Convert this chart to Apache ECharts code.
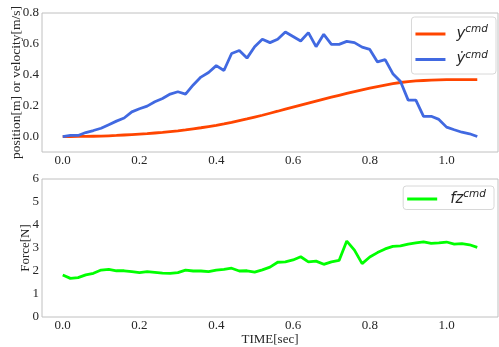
<!DOCTYPE html>
<html>
<head>
<meta charset="utf-8">
<script src="https://cdn.jsdelivr.net/npm/echarts@6/dist/echarts.min.js"></script>
<style>
  html, body { margin: 0; padding: 0; background: #fff; }
  #chart { width: 499px; height: 347px; }
</style>
</head>
<body>
<div id="chart"></div>
<script>
// sample times [sec]
const time = [0.00, 0.02, 0.04, 0.06, 0.08, 0.10, 0.12, 0.14, 0.16, 0.18,
  0.20, 0.22, 0.24, 0.26, 0.28, 0.30, 0.32, 0.34, 0.36, 0.38,
  0.40, 0.42, 0.44, 0.46, 0.48, 0.50, 0.52, 0.54, 0.56, 0.58,
  0.60, 0.62, 0.64, 0.66, 0.68, 0.70, 0.72, 0.74, 0.76, 0.78,
  0.80, 0.82, 0.84, 0.86, 0.88, 0.90, 0.92, 0.94, 0.96, 0.98,
  1.00, 1.02, 1.04, 1.06, 1.08]

// y^cmd position [m]
const yCmd = [0.000, 0.000, 0.001, 0.001, 0.002, 0.003, 0.005, 0.007, 0.010, 0.013,
  0.016, 0.019, 0.023, 0.027, 0.032, 0.037, 0.043, 0.050, 0.057, 0.065,
  0.073, 0.082, 0.092, 0.103, 0.114, 0.126, 0.138, 0.151, 0.164, 0.178,
  0.191, 0.204, 0.217, 0.230, 0.243, 0.255, 0.267, 0.279, 0.291, 0.302,
  0.313, 0.323, 0.333, 0.342, 0.350, 0.356, 0.360, 0.363, 0.365, 0.367,
  0.368, 0.368, 0.369, 0.369, 0.369]

// ydot^cmd velocity [m/s]
const yDotCmd = [0.000, 0.007, 0.007, 0.026, 0.039, 0.054, 0.077, 0.100, 0.120, 0.160,
  0.180, 0.197, 0.225, 0.247, 0.275, 0.290, 0.275, 0.334, 0.385, 0.415,
  0.459, 0.428, 0.538, 0.557, 0.508, 0.582, 0.630, 0.608, 0.630, 0.677,
  0.648, 0.619, 0.673, 0.582, 0.662, 0.597, 0.597, 0.616, 0.608, 0.579,
  0.564, 0.483, 0.498, 0.407, 0.356, 0.236, 0.236, 0.131, 0.131, 0.111,
  0.061, 0.044, 0.028, 0.018, 0.000]

// fz^cmd force [N]
const fzCmd = [1.83, 1.68, 1.71, 1.83, 1.90, 2.04, 2.07, 2.01, 2.01, 1.97,
  1.93, 1.97, 1.94, 1.91, 1.90, 1.93, 2.04, 2.00, 2.00, 1.97,
  2.04, 2.07, 2.12, 2.00, 2.01, 1.95, 2.05, 2.17, 2.38, 2.40,
  2.48, 2.62, 2.40, 2.43, 2.29, 2.40, 2.46, 3.30, 2.91, 2.32,
  2.61, 2.80, 2.96, 3.07, 3.09, 3.17, 3.22, 3.27, 3.20, 3.22,
  3.26, 3.17, 3.19, 3.14, 3.03]

const xTicks = [0, 0.2, 0.4, 0.6, 0.8, 1.0]
const topYTicks = [0, 0.2, 0.4, 0.6, 0.8]

const pairs = (vals) => time.map((t, i) => [t, vals[i]])

const serif = 'Liberation Serif'
const textColor = '#262626'
const frameColor = '#c0c0c0'
const fontSize = 13

const legendNames = {
  ycmd: '{i|y}{s|cmd}',
  ydot: '{i|ẏ}{s|cmd}',
  fz: '{i|fz}{s|cmd}'
}
const legendRich = {
  i: { fontFamily: 'DejaVu Sans', fontStyle: 'italic', fontSize: 15, color: '#262626', lineHeight: 20 },
  s: { fontFamily: 'DejaVu Sans', fontStyle: 'italic', fontSize: 10.5, color: '#262626', lineHeight: 12, verticalAlign: 'top' }
}

const chart = echarts.init(document.getElementById('chart'))

function xAxisOf (gridIndex, showName) {
  return {
    type: 'value',
    gridIndex: gridIndex,
    min: -0.054,
    max: 1.134,
    name: showName ? 'TIME[sec]' : '',
    nameLocation: 'middle',
    nameGap: 15,
    nameTextStyle: { fontFamily: serif, fontSize: fontSize, color: textColor },
    axisLine: { show: false },
    axisTick: { show: false },
    splitLine: { show: false },
    axisLabel: {
      customValues: xTicks,
      margin: 2,
      fontFamily: serif,
      fontSize: fontSize,
      color: textColor,
      formatter: (v) => v.toFixed(1)
    }
  }
}

const option = {
  backgroundColor: '#fff',
  animation: false,
  grid: [
    { left: 42, right: 1, top: 13, height: 139, outerBoundsMode: 'none', show: true, borderColor: frameColor, borderWidth: 1, backgroundColor: 'transparent' },
    { left: 42, right: 1, top: 179, height: 138, outerBoundsMode: 'none', show: true, borderColor: frameColor, borderWidth: 1, backgroundColor: 'transparent' }
  ],
  legend: [
    {
      data: ['ycmd', 'ydot'],
      orient: 'vertical',
      right: 3,
      top: 17,
      itemWidth: 30,
      itemHeight: 3,
      itemGap: 8,
      icon: 'rect',
      padding: [7, 8, 7, 4],
      borderColor: '#d8d8d8',
      borderWidth: 1,
      borderRadius: 3,
      backgroundColor: '#fff',
      formatter: (name) => legendNames[name],
      textStyle: { rich: legendRich, padding: [0, 0, 0, 6] }
    },
    {
      data: ['fz'],
      orient: 'vertical',
      right: 5,
      top: 186,
      itemWidth: 30,
      itemHeight: 3,
      icon: 'rect',
      padding: [3, 8, 3, 4],
      borderColor: '#d8d8d8',
      borderWidth: 1,
      borderRadius: 3,
      backgroundColor: '#fff',
      formatter: (name) => legendNames[name],
      textStyle: { rich: legendRich, padding: [0, 0, 0, 8] }
    }
  ],
  xAxis: [xAxisOf(0, false), xAxisOf(1, true)],
  yAxis: [
    {
      type: 'value',
      gridIndex: 0,
      min: -0.1,
      max: 0.8,
      name: 'position[m] or velocity[m/s]',
      nameLocation: 'middle',
      nameGap: 19,
      nameMoveOverlap: false,
      nameTextStyle: { fontFamily: serif, fontSize: 13.5, color: textColor },
      axisLine: { show: false },
      axisTick: { show: false },
      splitLine: { show: false },
      axisLabel: {
        customValues: topYTicks,
        margin: 3,
        fontFamily: serif,
        fontSize: fontSize,
        color: textColor,
        formatter: (v) => v.toFixed(1)
      }
    },
    {
      type: 'value',
      gridIndex: 1,
      min: 0,
      max: 6,
      interval: 1,
      name: 'Force[N]',
      nameLocation: 'middle',
      nameGap: 10,
      nameMoveOverlap: false,
      nameTextStyle: { fontFamily: serif, fontSize: fontSize, color: textColor },
      axisLine: { show: false },
      axisTick: { show: false },
      splitLine: { show: false },
      axisLabel: {
        margin: 3,
        fontFamily: serif,
        fontSize: fontSize,
        color: textColor
      }
    }
  ],
  series: [
    {
      name: 'ycmd',
      type: 'line',
      xAxisIndex: 0,
      yAxisIndex: 0,
      data: pairs(yCmd),
      showSymbol: false,
      lineStyle: { color: '#ff4500', width: 2.8 },
      itemStyle: { color: '#ff4500' }
    },
    {
      name: 'ydot',
      type: 'line',
      xAxisIndex: 0,
      yAxisIndex: 0,
      data: pairs(yDotCmd),
      showSymbol: false,
      lineStyle: { color: '#4169e1', width: 2.8 },
      itemStyle: { color: '#4169e1' }
    },
    {
      name: 'fz',
      type: 'line',
      xAxisIndex: 1,
      yAxisIndex: 1,
      data: pairs(fzCmd),
      showSymbol: false,
      lineStyle: { color: '#00ff00', width: 2.8 },
      itemStyle: { color: '#00ff00' }
    }
  ]
}

chart.setOption(option)
</script>
</body>
</html>
